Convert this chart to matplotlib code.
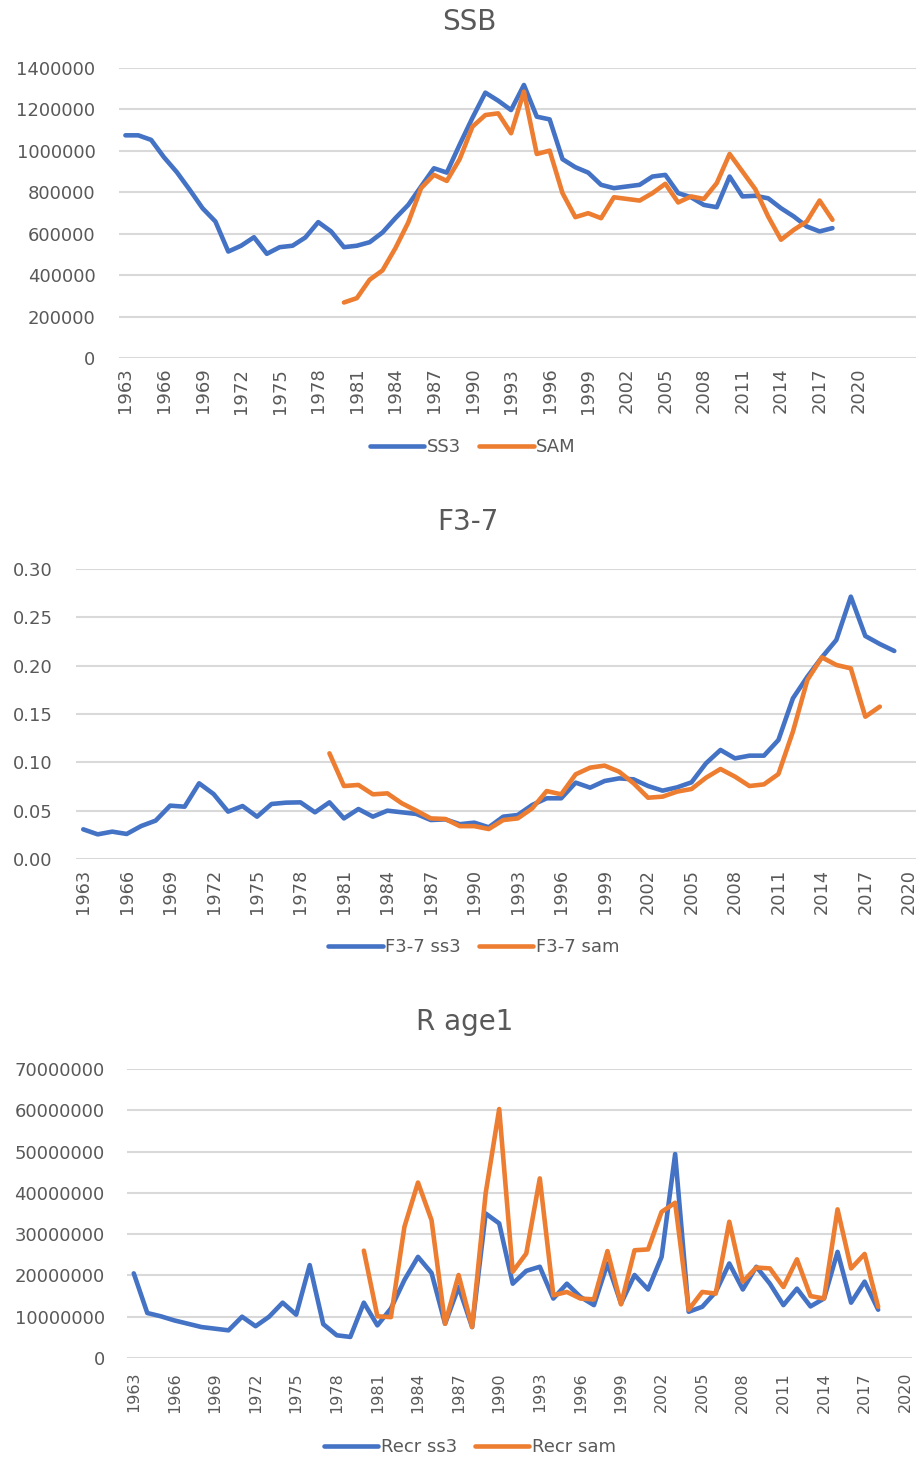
import numpy as np
import matplotlib
matplotlib.use("Agg")
import matplotlib.pyplot as plt
from matplotlib.ticker import MultipleLocator, FormatStrFormatter, FuncFormatter

nan = np.nan

# ---------------- data ----------------
years = list(range(1963, 2020))  # 1963..2019

ssb_ss3 = [1075000, 1075000, 1053000, 969000, 897000, 812000, 723000, 659000, 514000, 542000,
           583000, 503000, 535000, 542000, 582000, 656000, 611000, 535000, 542000, 559000,
           606000, 675000, 739000, 828000, 916000, 895000, 1030000, 1160000, 1281000, 1242000,
           1197000, 1318000, 1165000, 1152000, 960000, 921000, 895000, 836000, 820000, 828000,
           836000, 876000, 884000, 796000, 776000, 739000, 728000, 876000, 780000, 783000,
           771000, 723000, 683000, 635000, 611000, 627000, nan]

ssb_sam = [nan] * 17 + [268000, 289000, 378000, 423000, 530000, 654000, 820000, 884000, 855000,
           960000, 1117000, 1173000, 1181000, 1085000, 1286000, 985000, 1001000, 796000, 680000,
           699000, 675000, 776000, 768000, 760000, 796000, 841000, 751000, 780000, 768000,
           844000, 985000, 900000, 815000, 683000, 571000, 619000, 659000, 760000, 667000, nan]

f_ss3 = [0.0307, 0.0255, 0.0283, 0.0259, 0.0341, 0.0397, 0.0552, 0.0541, 0.0783, 0.0672,
         0.0490, 0.0548, 0.0438, 0.0569, 0.0583, 0.0586, 0.0483, 0.0586, 0.0420, 0.0517,
         0.0438, 0.0500, 0.0483, 0.0466, 0.0403, 0.0410, 0.0360, 0.0376, 0.0328, 0.0438,
         0.0455, 0.0559, 0.0628, 0.0628, 0.0790, 0.0738, 0.0807, 0.0834, 0.0824, 0.0755,
         0.0707, 0.0741, 0.0793, 0.0990, 0.1128, 0.1041, 0.1069, 0.1069, 0.1231, 0.1662,
         0.1886, 0.2086, 0.2266, 0.2714, 0.2307, 0.2224, 0.2152]

f_sam = [nan] * 17 + [0.1093, 0.0755, 0.0766, 0.0669, 0.0679, 0.0576, 0.0500, 0.0420, 0.0414,
         0.0340, 0.0340, 0.0310, 0.0403, 0.0420, 0.0524, 0.0703, 0.0669, 0.0876, 0.0945,
         0.0966, 0.0903, 0.0783, 0.0634, 0.0645, 0.0697, 0.0724, 0.0841, 0.0931, 0.0852,
         0.0755, 0.0772, 0.0879, 0.1317, 0.1852, 0.2086, 0.2007, 0.1972, 0.1472, 0.1576, nan]

recr_ss3 = [20.5, 10.9, 10.1, 9.1, 8.3, 7.5, 7.1, 6.7, 10.0, 7.7,
            10.0, 13.4, 10.5, 22.5, 8.2, 5.5, 5.1, 13.4, 7.9, 12.0,
            18.9, 24.5, 20.6, 8.3, 17.2, 7.5, 35.0, 32.6, 18.0, 21.1,
            22.1, 14.4, 18.0, 14.8, 12.8, 22.9, 13.2, 20.1, 16.6, 24.5,
            49.4, 11.2, 12.4, 16.0, 22.9, 16.6, 22.1, 18.0, 12.8, 16.8,
            12.5, 14.4, 25.7, 13.4, 18.5, 11.7, nan]

recr_sam = [nan] * 17 + [26.0, 10.1, 9.9, 31.8, 42.5, 33.4, 8.3, 20.1, 7.5,
            39.9, 60.3, 20.9, 25.3, 43.5, 15.2, 16.0, 14.4, 14.2, 25.9,
            13.0, 26.1, 26.3, 35.4, 37.6, 11.7, 16.0, 15.6, 33.0, 18.5,
            21.9, 21.7, 17.2, 23.9, 15.0, 14.4, 36.0, 21.7, 25.2, 12.4, nan]

xtick_years = list(range(1963, 2021, 3))

BLUE = "#4472C4"
ORANGE = "#ED7D31"
GRID = "#D9D9D9"
TXT = "#595959"

W, H = 921, 1459
fig = plt.figure(figsize=(W / 100, H / 100), dpi=100)
plt.rcParams['font.family'] = ['DejaVu Sans']


def add_panel(left, right, top, bottom, xmax, title, title_xy, y1, y2, labels,
              legend_xy, ymax, ystep, yfmt, ypad, xpad, xfs, yfs, scale=1.0):
    ax = fig.add_axes([left / W, 1 - bottom / H, (right - left) / W, (bottom - top) / H])
    yr = np.array(years)
    a = np.array(y1, dtype=float) * scale
    b = np.array(y2, dtype=float) * scale
    l1, = ax.plot(yr, a, color=BLUE, lw=3.3, solid_joinstyle='round', solid_capstyle='round',
                  label=labels[0], zorder=3)
    l2, = ax.plot(yr, b, color=ORANGE, lw=3.3, solid_joinstyle='round', solid_capstyle='round',
                  label=labels[1], zorder=4)
    ax.set_xlim(1962.5, xmax)
    ax.set_ylim(0, ymax)
    ax.yaxis.set_major_locator(MultipleLocator(ystep))
    ax.yaxis.set_major_formatter(yfmt)
    ax.set_xticks(xtick_years)
    ax.set_xticklabels([str(y) for y in xtick_years], rotation=90, va='top', ha='center')
    ax.grid(axis='y', color=GRID, lw=1.5, zorder=0)
    ax.set_axisbelow(True)
    for s in ax.spines.values():
        s.set_visible(False)
    ax.tick_params(axis='both', length=0, colors=TXT)
    ax.tick_params(axis='y', pad=ypad, labelsize=yfs)
    ax.tick_params(axis='x', pad=xpad, labelsize=xfs)
    fig.text(title_xy[0] / W, 1 - title_xy[1] / H, title, ha='center', va='center',
             fontsize=20, color=TXT)
    leg = fig.legend(handles=[l1, l2], loc='center',
                     bbox_to_anchor=(legend_xy[0] / W, 1 - legend_xy[1] / H),
                     ncol=2, frameon=False, fontsize=13, handlelength=3.0,
                     handletextpad=0.15, columnspacing=1.0, labelcolor=TXT)
    for h in leg.legend_handles:
        h.set_linewidth(3.3)
    return ax


add_panel(119, 916, 68, 358, 2024.5, "SSB", (469, 22), ssb_ss3, ssb_sam, ["SS3", "SAM"],
          (473, 447), 1400000, 200000, FuncFormatter(lambda v, p: f"{int(round(v))}"),
          17, 7, 13, 13)

add_panel(76, 916, 569, 859, 2020.5, "F3-7", (468, 522), f_ss3, f_sam,
          ["F3-7 ss3", "F3-7 sam"], (474, 947), 0.30, 0.05, FormatStrFormatter("%.2f"),
          17, 7, 12.8, 13)

add_panel(127, 912, 1069, 1358, 2020.5, "R age1", (465, 1022), recr_ss3, recr_sam,
          ["Recr ss3", "Recr sam"], (470, 1447), 70000000, 10000000,
          FuncFormatter(lambda v, p: f"{int(round(v))}"), 16, 10, 11.5, 13, scale=1e6)

fig.savefig("out.png", dpi=100, facecolor="white")
